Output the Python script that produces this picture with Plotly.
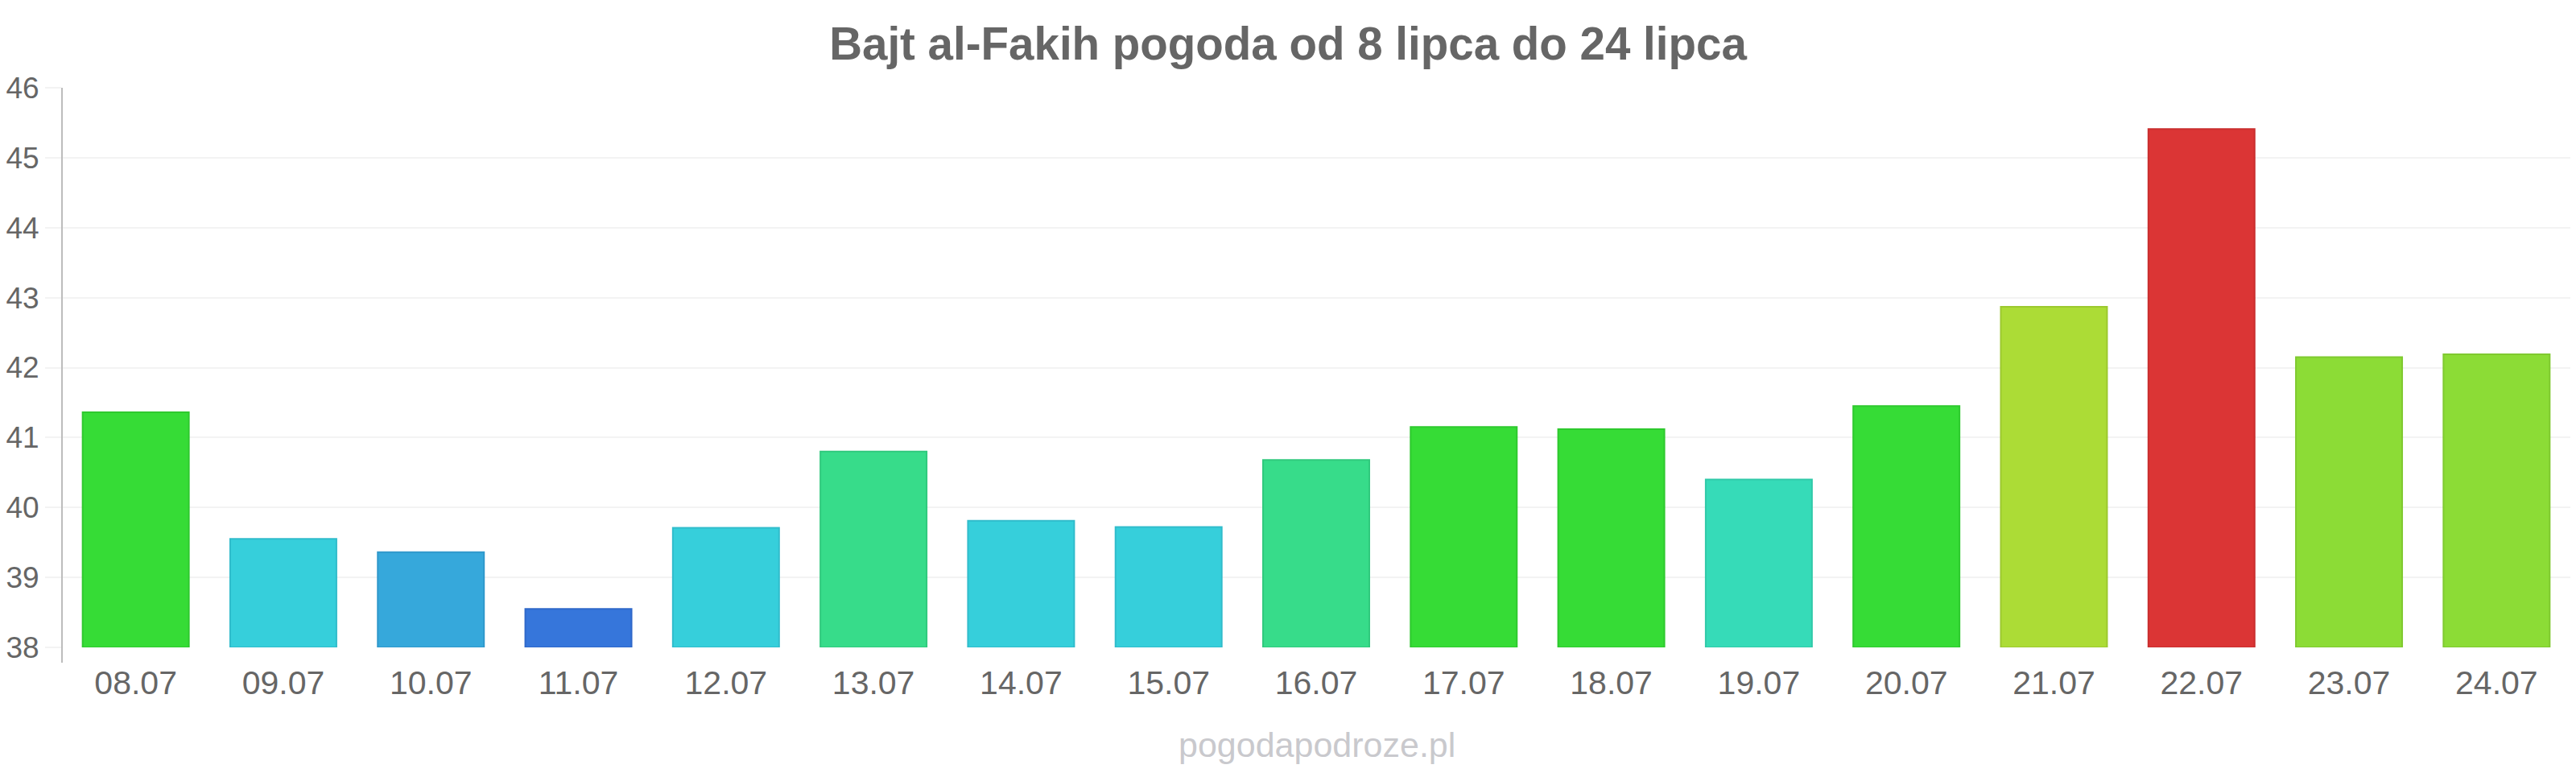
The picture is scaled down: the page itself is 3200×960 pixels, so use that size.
import plotly.graph_objects as go

dates = ["08.07", "09.07", "10.07", "11.07", "12.07", "13.07", "14.07", "15.07", "16.07",
         "17.07", "18.07", "19.07", "20.07", "21.07", "22.07", "23.07", "24.07"]
temps = [41.36, 39.55, 39.36, 38.55, 39.71, 40.80, 39.81, 39.72, 40.68,
         41.15, 41.12, 40.40, 41.45, 42.87, 45.41, 42.15, 42.19]
bar_colors = ["#36dc36", "#36cfdb", "#36a8db", "#3676db", "#36cfdb", "#37dc8a", "#36cfdb", "#36cfdb", "#37dc8a",
              "#36dc36", "#36dc36", "#36dbb8", "#36dc36", "#acdc36", "#db3535", "#8cdc36", "#8cdc36"]
border_colors = ["#2ec92e", "#30bccb", "#3098cb", "#2f68c9", "#30bccb", "#30c97d", "#30bccb", "#30bccb", "#30c97d",
                 "#2ec92e", "#2ec92e", "#30c9a8", "#2ec92e", "#9cc92f", "#c92e2e", "#7fc92f", "#7fc92f"]
y_ticks = [38, 39, 40, 41, 42, 43, 44, 45, 46]

title_text = "Bajt al-Fakih pogoda od 8 lipca do 24 lipca"
footer_text = "pogodapodroze.pl"

W, H = 3200, 960
L, R, T, B = 77, 7, 109, 156

fig = go.Figure()
fig.add_trace(go.Bar(
    x=dates, y=[t - 38 for t in temps], base=38,
    marker=dict(color=bar_colors, line=dict(color=border_colors, width=2)),
    width=0.72, hoverinfo="x+text", text=[f"{t}" for t in temps], textposition="none",
))

fig.update_layout(
    width=W, height=H,
    margin=dict(l=L, r=R, t=T, b=B, pad=0),
    paper_bgcolor="white", plot_bgcolor="white",
    showlegend=False,
    font=dict(family="Liberation Sans, Arial, sans-serif", color="#666666"),
    title=dict(text=f"<b>{title_text}</b>", x=0.5, xanchor="center", y=1 - 54 / H, yanchor="middle",
               font=dict(size=56.5, color="#666666", family="Liberation Sans, Arial, sans-serif")),
    xaxis=dict(showgrid=False, showline=False, zeroline=False, ticks="outside", ticklen=8,
               tickcolor="rgba(0,0,0,0)",
               tickfont=dict(size=41, color="#666666"), fixedrange=True),
    yaxis=dict(range=[38, 46], tickvals=y_ticks, ticktext=[str(v) for v in y_ticks],
               showgrid=True, gridcolor="#f3f3f3", gridwidth=2, zeroline=False,
               showline=False, ticks="outside", ticklen=20, tickcolor="#f3f3f3", tickwidth=2,
               tickfont=dict(size=37, color="#666666"), fixedrange=True),
    bargap=0.28,
)

# y-axis line (extends a little below the plot area, as in the reference)
fig.add_shape(type="line", xref="paper", yref="paper", x0=0, x1=0,
              y0=-(823 - 804) / (H - T - B), y1=1, line=dict(color="#bdbdbd", width=2))

fig.add_annotation(text=footer_text, xref="paper", yref="paper",
                   x=(1636 - L) / (W - L - R), y=-(925 - 804) / (H - T - B),
                   xanchor="center", yanchor="middle", showarrow=False,
                   font=dict(size=43, color="#c9c9cd", family="Liberation Sans, Arial, sans-serif"))

fig.write_html("out.html")
